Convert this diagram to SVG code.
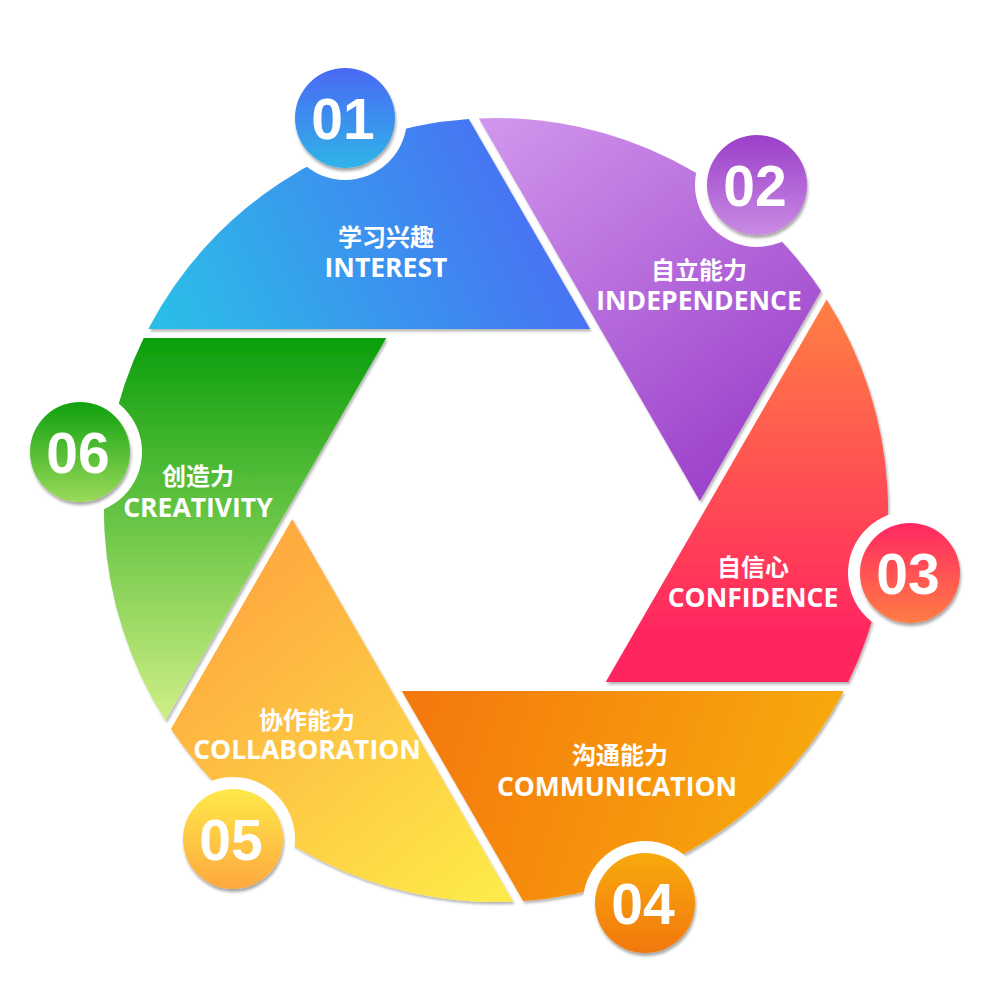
<svg xmlns="http://www.w3.org/2000/svg" width="1000" height="1000" viewBox="0 0 1000 1000">
<defs>
  <filter id="segShadow" x="-10%" y="-10%" width="120%" height="120%">
    <feDropShadow dx="1.5" dy="2.5" stdDeviation="1" flood-color="#000" flood-opacity="0.28"/>
  </filter>
  <filter id="badgeShadow" x="-20%" y="-20%" width="140%" height="140%">
    <feDropShadow dx="1" dy="3" stdDeviation="1.8" flood-color="#000" flood-opacity="0.35"/>
  </filter>
  <linearGradient id="gBlue" gradientUnits="userSpaceOnUse" x1="170" y1="330" x2="560" y2="140">
    <stop offset="0" stop-color="#2bbde8"/><stop offset="1" stop-color="#4b68f5"/>
  </linearGradient>
  <linearGradient id="gPurple" gradientUnits="userSpaceOnUse" x1="500" y1="120" x2="760" y2="470">
    <stop offset="0" stop-color="#d095ec"/><stop offset="1" stop-color="#9b40ca"/>
  </linearGradient>
  <linearGradient id="gRed" gradientUnits="userSpaceOnUse" x1="0" y1="310" x2="0" y2="640">
    <stop offset="0" stop-color="#ff7d45"/><stop offset="1" stop-color="#ff2560"/>
  </linearGradient>
  <linearGradient id="gOrange" gradientUnits="userSpaceOnUse" x1="430" y1="700" x2="800" y2="820">
    <stop offset="0" stop-color="#f47a08"/><stop offset="1" stop-color="#f8a80b"/>
  </linearGradient>
  <linearGradient id="gYellow" gradientUnits="userSpaceOnUse" x1="250" y1="580" x2="500" y2="880">
    <stop offset="0" stop-color="#feab40"/><stop offset="1" stop-color="#fde948"/>
  </linearGradient>
  <linearGradient id="gGreen" gradientUnits="userSpaceOnUse" x1="0" y1="345" x2="0" y2="715">
    <stop offset="0" stop-color="#0ea00e"/><stop offset="1" stop-color="#cdee84"/>
  </linearGradient>
  <linearGradient id="b1" x1="0" y1="0" x2="0" y2="1">
    <stop offset="0" stop-color="#4a68f5"/><stop offset="1" stop-color="#2fb4e8"/>
  </linearGradient>
  <linearGradient id="b2" x1="0" y1="0" x2="0" y2="1">
    <stop offset="0" stop-color="#9b3fc9"/><stop offset="1" stop-color="#c98be4"/>
  </linearGradient>
  <linearGradient id="b3" x1="0" y1="0" x2="0" y2="1">
    <stop offset="0" stop-color="#ff2862"/><stop offset="1" stop-color="#ff7d45"/>
  </linearGradient>
  <linearGradient id="b4" x1="0" y1="0" x2="0" y2="1">
    <stop offset="0" stop-color="#f8aa0b"/><stop offset="1" stop-color="#f27808"/>
  </linearGradient>
  <linearGradient id="b5" x1="0" y1="0" x2="0" y2="1">
    <stop offset="0" stop-color="#fee948"/><stop offset="1" stop-color="#fea840"/>
  </linearGradient>
  <linearGradient id="b6" x1="0" y1="0" x2="0" y2="1">
    <stop offset="0" stop-color="#0ea00e"/><stop offset="1" stop-color="#9bda5a"/>
  </linearGradient>
</defs>
<style>
  .seg { filter: url(#segShadow); }
  .ring { fill: #ffffff; }
  .badge { filter: url(#badgeShadow); }
  .num { font-family: "Liberation Sans", Arial, sans-serif; font-weight: 700; font-size: 57px; fill: #ffffff; text-anchor: middle; }
  .cn { font-family: "Noto Sans CJK SC", "Noto Sans", sans-serif; font-weight: 700; font-size: 24px; fill: #ffffff; text-anchor: middle; }
  .en { font-family: "Open Sans", "Noto Sans", sans-serif; font-weight: 700; font-size: 26.5px; fill: #ffffff; text-anchor: middle; }
</style>
<rect width="1000" height="1000" fill="#ffffff"/>

<g id="segments">
  <path class="seg" d="M148.3,329 L590.1,329 L468.8,119 A392,392 0 0 0 148.3,329 Z" fill="url(#gBlue)"/>
  <path class="seg" d="M478.9,118.4 L699.8,501 L821.1,290.9 A392,392 0 0 0 478.9,118.4 Z" fill="url(#gPurple)"/>
  <path class="seg" d="M826.6,299.4 L605.7,682 L848.3,682 A392,392 0 0 0 826.6,299.4 Z" fill="url(#gRed)"/>
  <path class="seg" d="M843.7,691 L401.9,691 L523.2,901 A392,392 0 0 0 843.7,691 Z" fill="url(#gOrange)"/>
  <path class="seg" d="M513.1,901.6 L292.2,519 L170.9,729.1 A392,392 0 0 0 513.1,901.6 Z" fill="url(#gYellow)"/>
  <path class="seg" d="M165.4,720.6 L386.3,338 L143.7,338 A392,392 0 0 0 165.4,720.6 Z" fill="url(#gGreen)"/>
</g>

<g id="node-01">
  <circle class="ring" cx="345" cy="118" r="62"/>
  <circle class="badge" cx="345" cy="118" r="50" fill="url(#b1)"/>
  <text class="num" x="343" y="139">01</text>
  <text class="cn" x="386" y="246">学习兴趣</text>
  <text class="en" x="386" y="277">INTEREST</text>
</g>
<g id="node-02">
  <circle class="ring" cx="757" cy="185" r="62"/>
  <circle class="badge" cx="757" cy="185" r="50" fill="url(#b2)"/>
  <text class="num" x="755" y="206">02</text>
  <text class="cn" x="699" y="279">自立能力</text>
  <text class="en" x="699" y="310">INDEPENDENCE</text>
</g>
<g id="node-03">
  <circle class="ring" cx="910" cy="573" r="62"/>
  <circle class="badge" cx="910" cy="573" r="50" fill="url(#b3)"/>
  <text class="num" x="908" y="594">03</text>
  <text class="cn" x="753" y="576">自信心</text>
  <text class="en" x="753" y="607">CONFIDENCE</text>
</g>
<g id="node-04">
  <circle class="ring" cx="645" cy="903" r="62"/>
  <circle class="badge" cx="645" cy="903" r="50" fill="url(#b4)"/>
  <text class="num" x="643" y="924">04</text>
  <text class="cn" x="620" y="764">沟通能力</text>
  <text class="en" x="617" y="796">COMMUNICATION</text>
</g>
<g id="node-05">
  <circle class="ring" cx="233" cy="839" r="62"/>
  <circle class="badge" cx="233" cy="839" r="50" fill="url(#b5)"/>
  <text class="num" x="231" y="860">05</text>
  <text class="cn" x="307" y="729">协作能力</text>
  <text class="en" x="307" y="759">COLLABORATION</text>
</g>
<g id="node-06">
  <circle class="ring" cx="80" cy="452" r="62"/>
  <circle class="badge" cx="80" cy="452" r="50" fill="url(#b6)"/>
  <text class="num" x="78" y="473">06</text>
  <text class="cn" x="198" y="485">创造力</text>
  <text class="en" x="198" y="517">CREATIVITY</text>
</g>
</svg>
